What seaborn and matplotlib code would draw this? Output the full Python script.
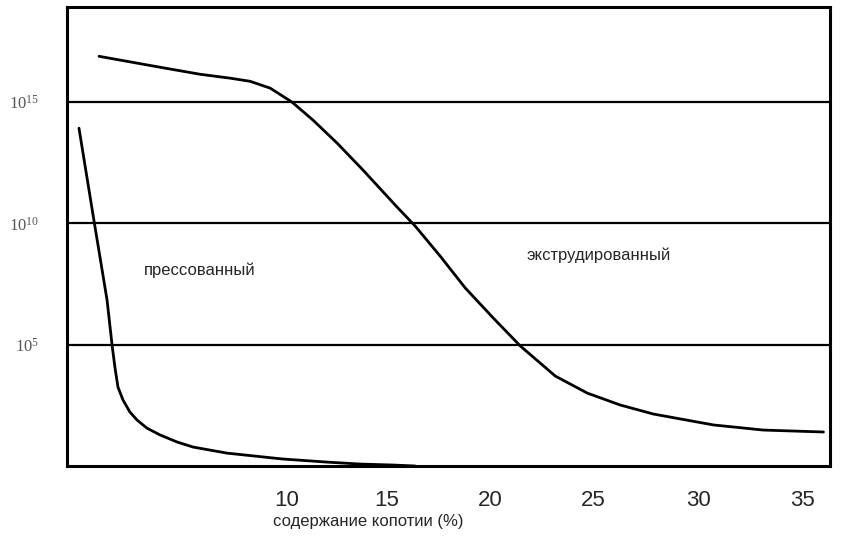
import numpy as np
import pandas as pd
import matplotlib
matplotlib.use("Agg")
import matplotlib.pyplot as plt
import seaborn as sns

# ---- data (x = soot content %, y = log10 of resistivity) ----
extruded_x = [1.83, 4.63, 6.47, 7.85, 8.77, 9.69, 10.70, 11.66, 12.77, 13.96,
              15.52, 16.35, 17.50, 18.65, 19.94, 21.18, 22.79, 24.26, 25.77, 27.29,
              30.05, 32.34, 35.10]
extruded_log = [16.87, 16.42, 16.13, 15.97, 15.84, 15.56, 14.98, 14.24, 13.29, 12.18,
                10.66, 9.88, 8.64, 7.33, 6.09, 4.94, 3.70, 3.00, 2.51, 2.14,
                1.69, 1.48, 1.40]

pressed_x = [0.91, 1.55, 2.20, 2.43, 2.56, 2.70, 2.93, 3.25, 3.58, 4.03, 4.63,
             5.41, 6.15, 7.71, 10.24, 12.31, 13.82, 15.34, 16.35]
pressed_log = [13.91, 10.37, 6.83, 4.98, 4.07, 3.25, 2.72, 2.22, 1.89, 1.56, 1.28,
               0.99, 0.78, 0.53, 0.29, 0.16, 0.08, 0.04, 0.0]

y_ticks_log = [5, 10, 15]
y_tick_labels = [r"$10^{5}$", r"$10^{10}$", r"$10^{15}$"]
x_ticks = [5, 10, 15, 20, 25, 30]
x_label_values = ["10", "15", "20", "25", "30", "35"]
x_label_pos = [10.45, 15.05, 19.8, 24.55, 29.35, 34.15]

series_names = ["прессованный", "экструдированный"]
xlabel = "содержание копотии (%)"

df = pd.concat([
    pd.DataFrame({"x": pressed_x, "y": np.power(10.0, pressed_log), "s": series_names[0]}),
    pd.DataFrame({"x": extruded_x, "y": np.power(10.0, extruded_log), "s": series_names[1]}),
])

sns.set_theme(style="white")
plt.rcParams["font.family"] = ["Liberation Sans", "DejaVu Sans"]
plt.rcParams["mathtext.fontset"] = "custom"
plt.rcParams["mathtext.rm"] = "Liberation Serif"
plt.rcParams["mathtext.it"] = "Liberation Serif"

fig = plt.figure(figsize=(8.55, 5.4), dpi=100)
ax = fig.add_axes([67 / 855, 1 - 466 / 540, (830 - 67) / 855, (466 - 7) / 540])

sns.lineplot(data=df, x="x", y="y", units="s", estimator=None, sort=False,
             color="black", linewidth=2.0, ax=ax, legend=False)

ax.set_yscale("log")
ax.set_xlim(0.36, 35.4)
ax.set_ylim(10 ** 0.0, 10 ** 18.9)

for v in y_ticks_log:
    ax.axhline(10.0 ** v, color="black", linewidth=1.6, zorder=1)

ax.set_yticks([10.0 ** v for v in y_ticks_log])
ax.set_yticklabels(y_tick_labels, fontsize=12, color="#555555")
ax.yaxis.set_minor_locator(matplotlib.ticker.NullLocator())
ax.tick_params(axis="y", length=0, pad=20)

ax.set_xticks(x_ticks)
ax.set_xticklabels([""] * len(x_ticks))
ax.tick_params(axis="x", which="major", direction="in", length=7, width=1.5, color="black")
ax.set_xticks(x_label_pos, minor=True)
ax.set_xticklabels(x_label_values, minor=True, fontsize=16)
ax.tick_params(axis="x", which="minor", length=0, pad=17)

ax.set_xlabel(xlabel, fontsize=12)
ax.xaxis.set_label_coords((368 - 67) / 763, -0.104)
ax.set_ylabel("")

for sp in ax.spines.values():
    sp.set_visible(True)
    sp.set_color("black")
    sp.set_linewidth(2.2)

ax.text(6.47, 10 ** 8.07, series_names[0], fontsize=12, ha="center", va="center")
ax.text(24.76, 10 ** 8.68, series_names[1], fontsize=12, ha="center", va="center")

fig.savefig("out.png", dpi=100)
